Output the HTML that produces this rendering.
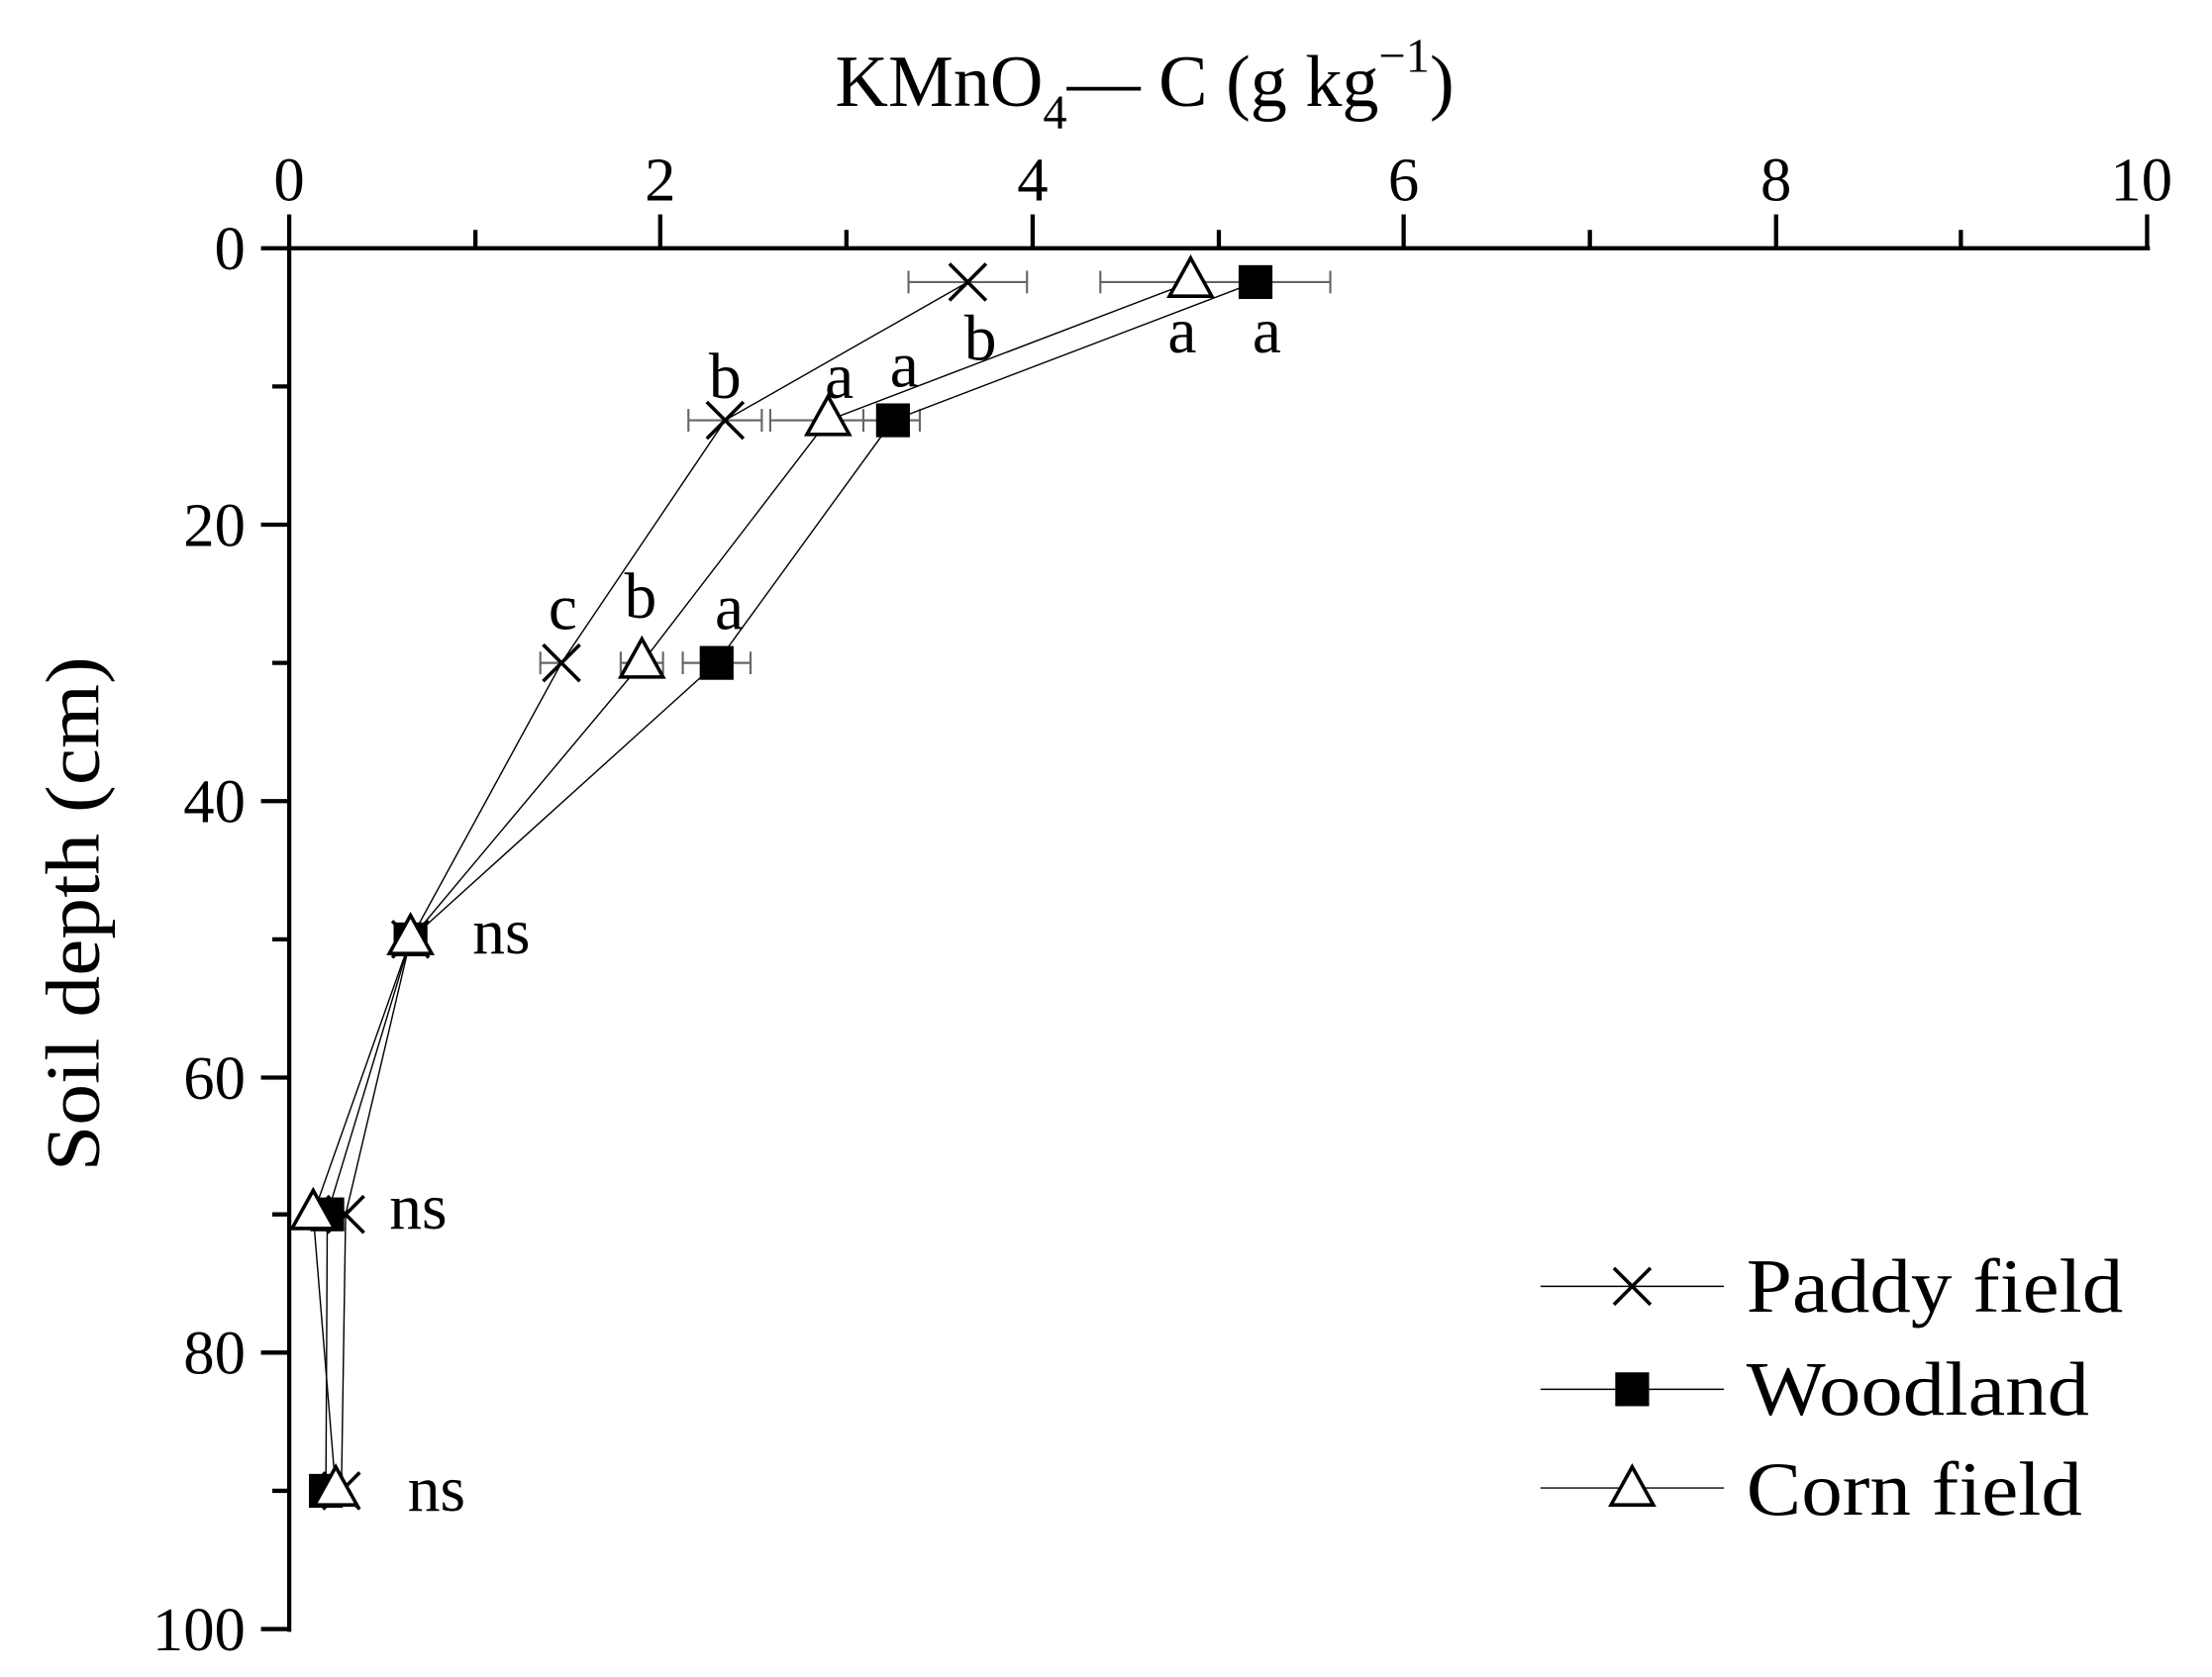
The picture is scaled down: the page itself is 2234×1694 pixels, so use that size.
<!DOCTYPE html>
<html><head><style>html,body{margin:0;padding:0;background:#fff}svg{display:block}</style></head><body>
<svg width="2234" height="1694" viewBox="0 0 1568 1189" xmlns="http://www.w3.org/2000/svg" font-family="Liberation Serif, serif">
<rect width="1568" height="1189" fill="#fff"/>
<g stroke="#000" stroke-width="3" fill="none">
<line x1="185" y1="176" x2="1524" y2="176"/>
<line x1="205" y1="176" x2="205" y2="1157"/>
<line x1="205" y1="176" x2="205" y2="152"/><line x1="337" y1="176" x2="337" y2="163"/>
<line x1="468" y1="176" x2="468" y2="152"/><line x1="600" y1="176" x2="600" y2="163"/>
<line x1="732" y1="176" x2="732" y2="152"/><line x1="864" y1="176" x2="864" y2="163"/>
<line x1="995" y1="176" x2="995" y2="152"/><line x1="1127" y1="176" x2="1127" y2="163"/>
<line x1="1259" y1="176" x2="1259" y2="152"/><line x1="1390" y1="176" x2="1390" y2="163"/>
<line x1="1522" y1="176" x2="1522" y2="152"/>
<line x1="185" y1="372" x2="205" y2="372"/><line x1="185" y1="568" x2="205" y2="568"/>
<line x1="185" y1="764" x2="205" y2="764"/><line x1="185" y1="959" x2="205" y2="959"/>
<line x1="185" y1="1155" x2="205" y2="1155"/>
<line x1="193" y1="274" x2="205" y2="274"/><line x1="193" y1="470" x2="205" y2="470"/>
<line x1="193" y1="666" x2="205" y2="666"/><line x1="193" y1="861" x2="205" y2="861"/>
<line x1="193" y1="1057" x2="205" y2="1057"/>
</g>
<g font-size="44" text-anchor="middle">
<text x="205" y="142">0</text><text x="468" y="142">2</text><text x="732" y="142">4</text>
<text x="995" y="142">6</text><text x="1259" y="142">8</text><text x="1518" y="142">10</text>
</g>
<g font-size="44" text-anchor="end">
<text x="174" y="191">0</text><text x="174" y="387">20</text><text x="174" y="583">40</text>
<text x="174" y="779">60</text><text x="174" y="974">80</text><text x="174" y="1170">100</text>
</g>
<text x="592" y="75" font-size="52">KMnO<tspan font-size="34" dy="16">4</tspan><tspan dy="-16">— C (g kg</tspan><tspan font-size="34" dy="-24">−1</tspan><tspan dy="24">)</tspan></text>
<text transform="translate(70,648) rotate(-90)" font-size="54" text-anchor="middle" textLength="365" lengthAdjust="spacingAndGlyphs">Soil depth (cm)</text>
<g stroke="#666" stroke-width="1.5" fill="none">
<path d="M644 200H728M644 192V208M728 192V208"/>
<path d="M780 200H943M780 192V208M943 192V208"/>
<path d="M488 298H540M488 290V306M540 290V306"/>
<path d="M546 298H628M546 290V306M628 290V306"/>
<path d="M612 298H652M612 290V306M652 290V306"/>
<path d="M383 470H398M383 462V478"/>
<path d="M440 470H470M440 462V478M470 462V478"/>
<path d="M484 470H532M484 462V478M532 462V478"/>
</g>
<g stroke="#000" stroke-width="1" fill="none">
<polyline points="686,200 514,298 398,470 291,666 245,861 242,1057"/>
<polyline points="890,200 633,298 508,470 291,666 232,861 231,1057"/>
<polyline points="844,200 587,298 455,470 291,666 222,861 238,1057"/>
</g>
<g stroke="#000" stroke-width="2.5" fill="none">
<path d="M673 187l26 26M699 187l-26 26"/>
<path d="M501 285l26 26M527 285l-26 26"/>
<path d="M385 457l26 26M411 457l-26 26"/>
<path d="M278 653l26 26M304 653l-26 26"/>
<path d="M232 848l26 26M258 848l-26 26"/>
<path d="M229 1044l26 26M255 1044l-26 26"/>
</g>
<g fill="#000">
<rect x="878" y="188" width="24" height="24"/><rect x="621" y="286" width="24" height="24"/>
<rect x="496" y="458" width="24" height="24"/><rect x="279" y="654" width="24" height="24"/>
<rect x="220" y="849" width="24" height="24"/><rect x="219" y="1045" width="24" height="24"/>
</g>
<g fill="#fff" stroke="#000" stroke-width="2.5">
<path d="M844 183l15 27h-30z"/><path d="M587 281l15 27h-30z"/><path d="M455 453l15 27h-30z"/>
<path d="M291 649l15 27h-30z"/><path d="M222 844l15 27h-30z"/><path d="M238 1040l15 27h-30z"/>
</g>
<g font-size="46" text-anchor="middle">
<text x="695" y="255">b</text><text x="838" y="250">a</text><text x="898" y="250">a</text>
<text x="514" y="282">b</text><text x="595" y="282">a</text><text x="641" y="274">a</text>
<text x="399" y="446">c</text><text x="454" y="438">b</text><text x="517" y="446">a</text>
</g>
<g font-size="46">
<text x="335" y="676">ns</text><text x="276" y="871">ns</text><text x="289" y="1071">ns</text>
</g>
<g stroke="#000" stroke-width="1" fill="none">
<line x1="1092" y1="912" x2="1222" y2="912"/><line x1="1092" y1="985" x2="1222" y2="985"/><line x1="1092" y1="1055" x2="1222" y2="1055"/>
</g>
<path d="M1144 899l26 26M1170 899l-26 26" stroke="#000" stroke-width="2.5"/>
<rect x="1145" y="973" width="24" height="24" fill="#000"/>
<path d="M1157 1040l15 27h-30z" fill="#fff" stroke="#000" stroke-width="2.5"/>
<g font-size="54">
<text x="1238" y="930" textLength="267" lengthAdjust="spacingAndGlyphs">Paddy field</text>
<text x="1238" y="1003" textLength="243" lengthAdjust="spacingAndGlyphs">Woodland</text>
<text x="1238" y="1074" textLength="238" lengthAdjust="spacingAndGlyphs">Corn field</text>
</g>
</svg>
</body></html>
